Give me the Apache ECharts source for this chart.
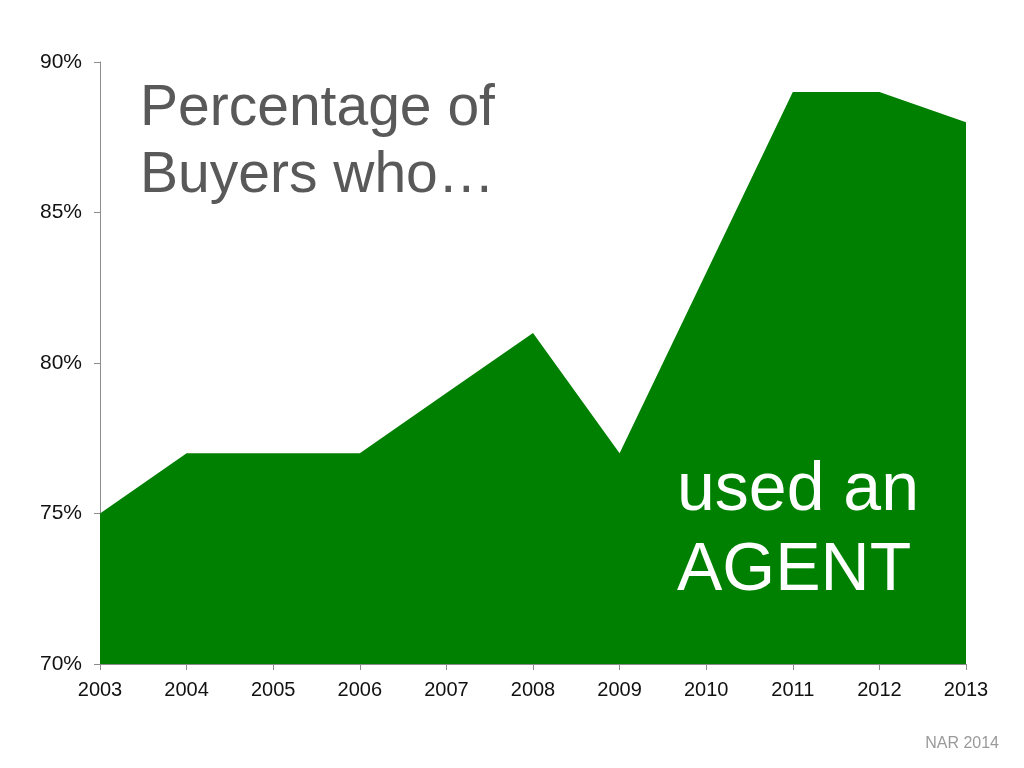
<!DOCTYPE html>
<html>
<head>
<meta charset="utf-8">
<script src="https://cdn.jsdelivr.net/npm/echarts@6/dist/echarts.min.js"></script>
<style>html,body{margin:0;padding:0;background:#fff;}#c{width:1024px;height:768px;}</style>
</head>
<body>
<div id="c"></div>
<script>
const years = ['2003','2004','2005','2006','2007','2008','2009','2010','2011','2012','2013'];
const agentShare = [75, 77, 77, 77, 79, 81, 77, 83, 89, 89, 88];
const yTicks = [70, 75, 80, 85, 90];

const chart = echarts.init(document.getElementById('c'));
const font = '"Liberation Sans", Arial, sans-serif';
chart.setOption({
  animation: false,
  backgroundColor: '#ffffff',
  grid: { left: 100, right: 58, top: 62, bottom: 104, containLabel: false },
  title: [
    { text: 'Percentage of\nBuyers who…', left: 135, top: 71,
      textStyle: { fontFamily: font, fontSize: 57, fontWeight: 'normal', color: '#595959', lineHeight: 67 } },
    { text: 'NAR 2014', right: 20, top: 731,
      textStyle: { fontFamily: font, fontSize: 16, fontWeight: 'normal', color: '#9a9a9a' } }
  ],
  graphic: [
    { type: 'text', left: 677, top: 451, z: 100,
      style: { text: 'used an\nAGENT', fill: '#ffffff', font: '68px "Liberation Sans", Arial, sans-serif', lineHeight: 80 } }
  ],
  xAxis: {
    type: 'category', data: years, boundaryGap: false,
    axisLine: { lineStyle: { color: '#8c8c8c', width: 1 } },
    axisTick: { show: true, length: 6, lineStyle: { color: '#8c8c8c' } },
    axisLabel: { color: '#111', fontFamily: font, fontSize: 20, margin: 16 },
    splitLine: { show: false }
  },
  yAxis: {
    type: 'value', min: yTicks[0], max: yTicks[yTicks.length - 1], interval: 5,
    axisLine: { show: true, lineStyle: { color: '#8c8c8c', width: 1 } },
    axisTick: { show: true, length: 6, lineStyle: { color: '#8c8c8c' } },
    axisLabel: { color: '#111', fontFamily: font, fontSize: 21, margin: 18, formatter: '{value}%' },
    splitLine: { show: false }
  },
  series: [{
    type: 'line', data: agentShare, symbol: 'none',
    lineStyle: { width: 0 },
    areaStyle: { color: '#008000', opacity: 1 },
    z: 1
  }]
});
</script>
</body>
</html>
